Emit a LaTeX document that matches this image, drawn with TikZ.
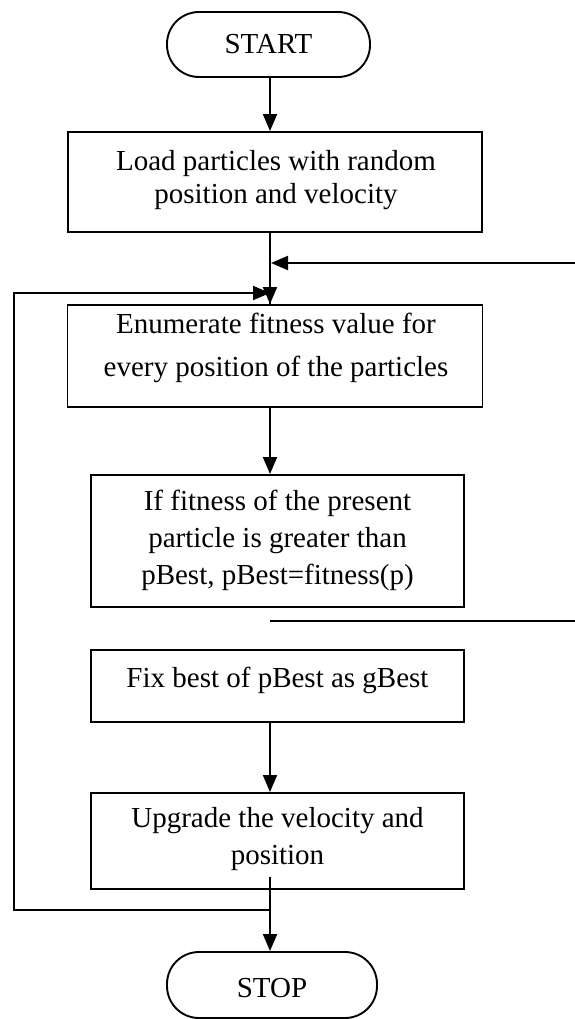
\documentclass[tikz,border=0pt]{standalone}
\usepackage{fontspec}
\setmainfont{Liberation Serif}
\usetikzlibrary{arrows.meta}
\begin{document}
\begin{tikzpicture}[x=1pt,y=-1pt,
  every path/.style={line width=1.9pt},
  term/.style={draw,line width=1.9pt,rounded corners=32pt,inner sep=0pt},
  box/.style={draw,line width=1.9pt,inner sep=0pt},
  txt/.style={align=center,inner sep=0pt,font=\fontsize{29}{33}\selectfont},
  arr/.style={-{Triangle[length=17pt,width=14pt]}}]
\useasboundingbox (0,0) rectangle (575,1019);
% nodes
\node[term,minimum width=203pt,minimum height=65pt] (start) at (268.5,44.5) {};
\node[txt] (startt) at (start.center) {START};
\node[box,minimum width=414pt,minimum height=100pt] (b1) at (275,182) {};
\node[txt] (b1t) at (276,180) {Load particles with random\\position and velocity};
\node[box,minimum width=415pt,minimum height=102pt] (b2) at (275,356) {};
\node[txt,font=\fontsize{29}{43}\selectfont] (b2t) at (276,348) {Enumerate fitness value for\\every position of the particles};
\node[box,minimum width=373pt,minimum height=132pt] (b3) at (277.5,541) {};
\node[txt,font=\fontsize{29}{37}\selectfont] (b3t) at (277.5,540) {If fitness of the present\\particle is greater than\\pBest, pBest=fitness(p)};
\node[box,minimum width=373pt,minimum height=72pt] (b4) at (277.5,686) {};
\node[txt] (b4t) at (277.5,680) {Fix best of pBest as gBest};
\node[box,minimum width=373pt,minimum height=96pt] (b5) at (277.5,841) {};
\node[txt,font=\fontsize{29}{37}\selectfont] (b5t) at (277.5,839) {Upgrade the velocity and\\position};
\node[term,minimum width=210pt,minimum height=66pt] (stop) at (272,985) {};
\node[txt] (stopt) at (272,988) {STOP};
% helper coordinates
\coordinate (ax) at (270,0);
\coordinate (r1) at (575,263);
\coordinate (r2) at (575,621);
\coordinate (lp) at (14,293);
\coordinate (j) at (270,910);
\coordinate (u5) at (270,877);
\coordinate (lx) at (14,910);
% connectors
\draw[arr] (ax |- start.south) -- (ax |- b1.north);
\draw (ax |- b1.south) -- (ax |- b2.north);
\draw[arr] (ax |- r1) -- (ax |- b2.north);
\draw[arr] (r1) -- ([xshift=1pt]ax |- r1);
\draw[arr] (j) -- (lx) -- (lp) -- (ax |- lp);
\draw[arr] (ax |- b2.south) -- (ax |- b3.north);
\draw (ax |- r2) -- (r2);
\draw[arr] (ax |- b4.south) -- (ax |- b5.north);
\draw[arr] (u5) -- (ax |- stop.north);
\end{tikzpicture}
\end{document}
